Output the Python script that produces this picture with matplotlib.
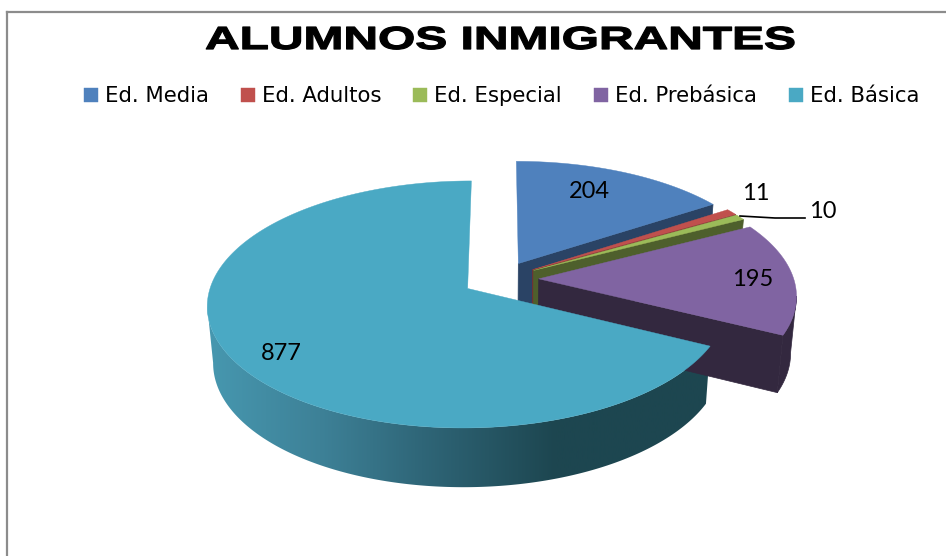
import matplotlib
matplotlib.use("Agg")
import matplotlib.pyplot as plt
import matplotlib.patheffects as pe
from matplotlib.colors import LinearSegmentedColormap
from matplotlib.patches import Polygon
from matplotlib.transforms import Affine2D
import numpy as np

categories = ["Ed. Media", "Ed. Adultos", "Ed. Especial", "Ed. Prebásica", "Ed. Básica"]
values = [204, 11, 10, 195, 877]

top_colors = ["#4F81BD", "#C0504D", "#9BBB59", "#8064A2", "#4AA9C4"]
wall_colors = ["#2A4365", "#7A2F2D", "#4E5F2C", "#33283F", "#1D4650"]

# gradient on the front wall of the big slice
grad_left, grad_right = 206, 720
grad_stops = [(0, "#4798B0"), (0.23, "#3D8096"), (0.42, "#2F6678"), (0.68, "#1D4650"), (1, "#1D4650")]

# projection of the pie, in pixels
cx, cy = 500.5, 279
A, B, k = 255, 119, 0.128
explode = 0.15
shrink = 0.98
depth, depth_v = 56, 3


def project(u, v):
    den = 1 - k * v
    return cx + A * u / den, cy + B * v / den


def lower(x, y, v):
    return cx + (x - cx) * shrink, y + depth + depth_v * v


class Stretch(pe.AbstractPathEffect):
    # widen the text around x0, the title is very wide in the original
    def __init__(self, sx, x0):
        super().__init__()
        self.sx = sx
        self.x0 = x0

    def draw_path(self, renderer, gc, tpath, affine, rgbFace=None):
        gc0 = renderer.new_gc()
        gc0.copy_properties(gc)
        gc0.set_linewidth(0.9)
        gc0.set_foreground("black")
        t = affine + Affine2D().translate(-self.x0, 0).scale(self.sx, 1).translate(self.x0, 0)
        renderer.draw_path(gc0, tpath, t, rgbFace)
        gc0.restore()


fig = plt.figure(figsize=(9.46, 5.56), dpi=100)
ax = fig.add_axes([0, 0, 1, 1])

# chart frame
ax.plot([7, 7], [556, 12], color="#8C8C8C", lw=1.6)
ax.plot([7, 946], [12, 12], color="#8C8C8C", lw=1.6)

cmap = LinearSegmentedColormap.from_list("wall", grad_stops)

# slices, clockwise from the top
angles = np.cumsum([0] + values) / sum(values) * 2 * np.pi
handles = []
for i in range(len(values)):
    a0, a1 = angles[i], angles[i + 1]
    mid = (a0 + a1) / 2
    off_u, off_v = explode * np.sin(mid), -explode * np.cos(mid)
    th = np.linspace(a0, a1, max(int((a1 - a0) * 120), 6))
    u = off_u + np.sin(th)
    v = off_v - np.cos(th)
    x, y = project(u, v)
    ax_, ay_ = project(off_u, off_v)

    # flat walls that face the viewer
    for ang, px, py in ((a1, x[-1], y[-1]), (a0, x[0], y[0])):
        sign = 1 if ang == a1 else -1
        if sign * np.sin(ang) > 0.01:
            pv = off_v - np.cos(ang)
            bx0, by0 = lower(ax_, ay_, off_v)
            bx1, by1 = lower(px, py, pv)
            ax.fill([ax_, px, bx1, bx0], [ay_, py, by1, by0],
                    color=wall_colors[i], lw=0.5)

    # round wall, from the rightmost point of the arc to the leftmost after it
    right = np.argmax(x)
    left = right + np.argmin(x[right:])
    if left > right:
        bx, by = lower(x, y, v)
        wall_x = np.r_[x[right:left + 1], bx[right:left + 1][::-1]]
        wall_y = np.r_[y[right:left + 1], by[right:left + 1][::-1]]
        if i == 4:
            grad = np.linspace(0, 1, 256).reshape(1, -1)
            img = ax.imshow(grad, cmap=cmap, extent=[grad_left, grad_right, 556, 0], aspect="auto")
            clip = Polygon(np.c_[wall_x, wall_y], closed=True, transform=ax.transData)
            img.set_clip_path(clip)
        else:
            ax.fill(wall_x, wall_y, color=wall_colors[i], lw=0.5)

    top = ax.fill(np.r_[ax_, x], np.r_[ay_, y], color=top_colors[i], lw=0.3, label=categories[i])
    handles.append(top[0])

# data labels
label_x = [589, 756, 823, 753, 281]
label_y = [191, 193, 211, 279, 353]
for val, lx, ly in zip(values, label_x, label_y):
    ax.text(lx, ly, str(val), ha="center", va="center", fontsize=17, family="Lato", color="black")
ax.plot([740, 775, 805], [216, 218, 218], color="black", lw=1.2)

title = ax.text(501, 41, "ALUMNOS INMIGRANTES", ha="center", va="center",
                fontsize=23, family="Liberation Sans", weight="bold", color="black")
title.set_path_effects([Stretch(1.5, 501)])

leg = ax.legend(handles=handles, ncol=5, frameon=False, loc="center left",
                bbox_to_anchor=(0.0888, 0.827), prop={"family": "DejaVu Sans", "size": 15.3},
                handlelength=0.66, handleheight=0.66, handletextpad=0.33,
                columnspacing=1.5, borderaxespad=0, borderpad=0)

ax.set_xlim(0, 946)
ax.set_ylim(556, 0)
ax.axis("off")

fig.savefig("out.png", dpi=100)
